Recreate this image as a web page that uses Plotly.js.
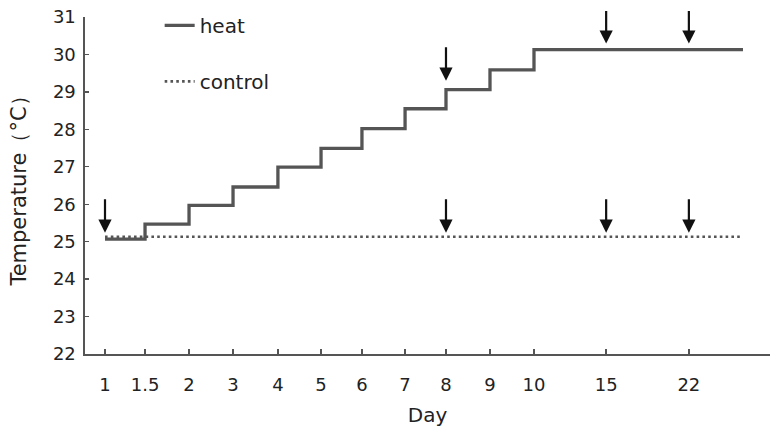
<!DOCTYPE html>
<html>
<head>
<meta charset="utf-8">
<script src="https://cdn.plot.ly/plotly-3.0.1.min.js"></script>
<style>html,body{margin:0;padding:0;background:#fff;}#chart{width:780px;height:439px;}</style>
</head>
<body>
<div id="chart"></div>
<script>
// ---- data ----
const dayLabels = ['1', '1.5', '2', '3', '4', '5', '6', '7', '8', '9', '10', '15', '22'];
// axis placement of each day label on the (non-uniform) day axis
const dayAxisPos = [0, 0.91, 1.91, 2.91, 3.93, 4.91, 5.84, 6.82, 7.75, 8.75, 9.75, 11.39, 13.27];
const endAxisPos = 14.5;

const heatDays = ['1', '1.5', '2', '3', '4', '5', '6', '7', '8', '9', '10'];
const heatTemp = [25.07, 25.47, 25.97, 26.46, 26.99, 27.49, 28.02, 28.55, 29.06, 29.59, 30.13];
const controlDays = ['1'];
const controlTemp = [25.13];

const heatArrowDays = ['8', '15', '22'];
const controlArrowDays = ['1', '8', '15', '22'];

// ---- helpers ----
const pos = d => dayAxisPos[dayLabels.indexOf(d)];
const heatAt = d => {
  const p = pos(d);
  let v = heatTemp[0];
  heatDays.forEach((hd, i) => { if (pos(hd) <= p + 1e-9) v = heatTemp[i]; });
  return v;
};

const FONT = 'DejaVu Sans, Arial, sans-serif';

const heatX = heatDays.map(pos).concat([endAxisPos]);
const heatY = heatTemp.concat([heatTemp[heatTemp.length - 1]]);
const ctrlX = controlDays.map(pos).concat([endAxisPos]);
const ctrlY = controlTemp.concat([controlTemp[controlTemp.length - 1]]);

const traces = [
  {x: heatX, y: heatY, type: 'scatter', mode: 'lines', name: 'heat',
   line: {shape: 'hv', color: '#555555', width: 3.3}, legendgroup: 'a'},
  {x: ctrlX, y: ctrlY, type: 'scatter', mode: 'lines', name: 'control',
   line: {color: '#555555', width: 2.6, dash: '2.6px,3.2px'}, legendgroup: 'b'}
];

const annotations = [];
heatArrowDays.forEach(d => {
  const big = d !== '8';
  annotations.push({x: pos(d), y: heatAt(d), xref: 'x', yref: 'y', text: '', showarrow: true,
    ax: 0, ay: big ? -40 : -44, arrowhead: 2, arrowsize: 1.2, arrowwidth: 2.2, arrowcolor: '#111',
    standoff: big ? 6 : 9});
});
controlArrowDays.forEach(d => {
  annotations.push({x: pos(d), y: controlTemp[0], xref: 'x', yref: 'y', text: '', showarrow: true,
    ax: 0, ay: -39, arrowhead: 2, arrowsize: 1.2, arrowwidth: 2.2, arrowcolor: '#111', standoff: 4});
});

const layout = {
  width: 780, height: 439,
  margin: {l: 85, r: 10, t: 17, b: 85, autoexpand: false},
  paper_bgcolor: '#fff', plot_bgcolor: '#fff',
  font: {family: FONT, color: '#222', size: 18},
  showlegend: true,
  legend: {x: 0.109, xanchor: 'left', y: 1.033, yanchor: 'top', bgcolor: 'rgba(0,0,0,0)',
    borderwidth: 0, tracegroupgap: 27, traceorder: 'grouped', font: {size: 20, family: FONT, color: '#222'}},
  xaxis: {
    range: [-0.4545, 15.114], tickmode: 'array', tickvals: dayAxisPos, ticktext: dayLabels,
    showgrid: false, zeroline: false, showline: true, linecolor: '#555', linewidth: 1.6,
    ticks: 'inside', ticklen: 5, tickcolor: '#555', tickwidth: 1.4,
    ticklabelstandoff: 14, tickfont: {size: 18, family: FONT, color: '#222'},
    title: {text: 'Day', font: {size: 20, family: FONT, color: '#222'}, standoff: 14},
    automargin: false, fixedrange: true
  },
  yaxis: {
    range: [22, 31], dtick: 1, tick0: 22,
    showgrid: false, zeroline: false, showline: true, linecolor: '#555', linewidth: 1.6,
    ticks: 'inside', ticklen: 4, tickcolor: '#555', tickwidth: 1.4,
    ticklabelstandoff: 4, tickfont: {size: 18, family: FONT, color: '#222'},
    title: {text: 'Temperature（°C）', font: {size: 21, family: FONT, color: '#222'}, standoff: 20},
    automargin: false, fixedrange: true
  },
  annotations: annotations
};

Plotly.newPlot('chart', traces, layout, {displayModeBar: false, staticPlot: true});
</script>
</body>
</html>
